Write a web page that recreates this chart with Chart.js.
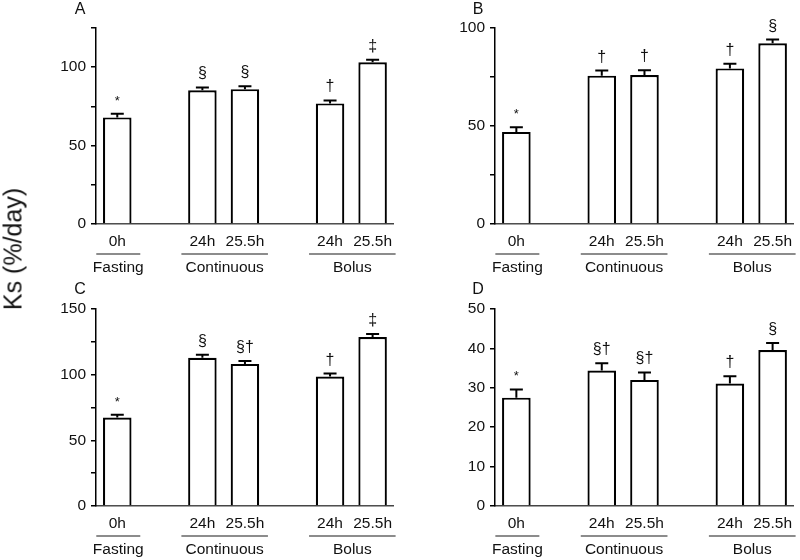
<!DOCTYPE html>
<html><head><meta charset="utf-8">
<script src="https://cdn.jsdelivr.net/npm/chart.js@4.4.1/dist/chart.umd.min.js"></script>
<style>
body{margin:0;background:#fff;width:800px;height:560px;position:relative;overflow:hidden;font-family:"Liberation Sans",Arial,sans-serif}
.p{position:absolute;width:400px;height:280px}
#ytitle{position:absolute;left:13px;top:249px;transform:translate(-50%,-50%) rotate(-90deg);font-size:25px;white-space:nowrap;color:#111}
</style></head><body>
<div class="p" style="left:0;top:0"><canvas id="cA" width="400" height="280"></canvas></div>
<div class="p" style="left:400px;top:0"><canvas id="cB" width="400" height="280"></canvas></div>
<div class="p" style="left:0;top:280px"><canvas id="cC" width="400" height="280"></canvas></div>
<div class="p" style="left:400px;top:280px"><canvas id="cD" width="400" height="280"></canvas></div>
<div id="ytitle">Ks (%/day)</div>
<script>
// Slots (empty slots separate the groups)
const slotLabels = ['0h', '', '24h', '25.5h', '', '24h', '25.5h'];
const groupNames = ['Fasting', 'Continuous', 'Bolus'];
const groupSlots = [[0, 0], [2, 3], [5, 6]];

// Panel A
const aMeans = [68, null, 85.3, 86, null, 76.9, 103.1];
const aSem   = [2.3, null, 1.8, 1.8, null, 1.9, 1.7];
const aMarks = ['*', '', '§', '§', '', '†', '‡'];
// Panel B
const bMeans = [47, null, 75.7, 76, null, 79.4, 92.2];
const bSem   = [2.3, null, 2.6, 2.4, null, 2.4, 1.9];
const bMarks = ['*', '', '†', '†', '', '†', '§'];
// Panel C
const cMeans = [67.3, null, 112.8, 108.2, null, 98.6, 128.6];
const cSem   = [2.1, null, 2.3, 2.3, null, 2.2, 2.3];
const cMarks = ['*', '', '§', '§†', '', '†', '‡'];
// Panel D
const dMeans = [27.5, null, 34.4, 32, null, 31.1, 39.6];
const dSem   = [2.1, null, 1.8, 1.9, null, 1.8, 1.8];
const dMarks = ['*', '', '§†', '§†', '', '†', '§'];

const FONT = '"Liberation Sans", Arial, sans-serif';

const decorPlugin = {
  id: 'decor',
  afterDatasetsDraw(chart, args, opts) {
    const ctx = chart.ctx;
    const meta = chart.getDatasetMeta(0);
    const ds = chart.data.datasets[0];
    const y = chart.scales.y;
    const x = chart.scales.x;
    ctx.save();
    // error bars + marks
    meta.data.forEach((bar, i) => {
      const v = ds.data[i];
      if (v == null) return;
      const top = y.getPixelForValue(v + opts.sem[i]);
      ctx.strokeStyle = '#000';
      ctx.lineWidth = 2;
      ctx.beginPath();
      ctx.moveTo(bar.x, bar.y);
      ctx.lineTo(bar.x, top);
      ctx.moveTo(bar.x - 6.5, top);
      ctx.lineTo(bar.x + 6.5, top);
      ctx.stroke();
      const m = opts.marks[i];
      if (m) {
        ctx.fillStyle = '#111';
        ctx.textAlign = 'center';
        ctx.textBaseline = 'alphabetic';
        ctx.font = (m === '*' ? '13px ' : '16px ') + FONT;
        ctx.fillText(m, bar.x, top - 9);
      }
    });
    // group lines and names
    const bottom = chart.chartArea.bottom;
    groupSlots.forEach((g, k) => {
      const x0 = x.getPixelForValue(g[0]) - 21;
      const x1 = x.getPixelForValue(g[1]) + 23;
      ctx.strokeStyle = '#666';
      ctx.lineWidth = 1.5;
      ctx.beginPath();
      ctx.moveTo(x0, bottom + 30);
      ctx.lineTo(x1, bottom + 30);
      ctx.stroke();
      ctx.fillStyle = '#111';
      ctx.font = '15.5px ' + FONT;
      ctx.textAlign = 'center';
      ctx.textBaseline = 'middle';
      ctx.fillText(groupNames[k], (x0 + x1) / 2, bottom + 44);
    });
    // panel letter
    ctx.font = '16px ' + FONT;
    ctx.fillStyle = '#111';
    ctx.textAlign = 'center';
    ctx.textBaseline = 'middle';
    ctx.fillText(opts.letter, opts.letterX, 10);
    ctx.restore();
  }
};

function makePanel(id, letter, means, sem, marks, max, step, labelEvery, yw, topPad, xh, letterX) {
  new Chart(document.getElementById(id), {
    type: 'bar',
    data: {
      labels: slotLabels,
      datasets: [{
        data: means,
        backgroundColor: '#fff',
        borderColor: '#000',
        borderWidth: 2.2,
        borderSkipped: 'start',
        barPercentage: 0.67,
        categoryPercentage: 1
      }]
    },
    options: {
      responsive: false,
      animation: false,
      layout: { padding: { top: topPad, left: 0, right: 0, bottom: 0 } },
      plugins: {
        legend: { display: false },
        tooltip: { enabled: false },
        decor: { sem: sem, marks: marks, letter: letter, letterX: letterX }
      },
      scales: {
        x: {
          grid: { display: false, drawTicks: false },
          border: { display: true, color: '#444', width: 1.5 },
          ticks: { color: '#111', font: { family: FONT, size: 15.5 }, padding: 8, maxRotation: 0, autoSkip: false },
          afterFit(s) { s.height = xh; }
        },
        y: {
          min: 0, max: max,
          grid: { drawOnChartArea: false, drawTicks: true, tickLength: 5, color: '#000', lineWidth: 1.5 },
          border: { display: true, color: '#000', width: 1.5 },
          ticks: {
            stepSize: step, color: '#111', padding: 5,
            font: { family: FONT, size: 15.5 },
            callback: v => (v % labelEvery === 0 ? String(v) : '')
          },
          afterFit(s) { s.width = yw; }
        }
      }
    },
    plugins: [decorPlugin]
  });
}

makePanel('cA', 'A', aMeans, aSem, aMarks, 125, 25, 50, 96, 28, 56, 80);
makePanel('cB', 'B', bMeans, bSem, bMarks, 100, 25, 50, 95, 28, 56, 78);
makePanel('cC', 'C', cMeans, cSem, cMarks, 150, 25, 50, 96, 29, 54, 80);
makePanel('cD', 'D', dMeans, dSem, dMarks, 50, 5, 10, 95, 29, 54, 78);
</script>
</body></html>
